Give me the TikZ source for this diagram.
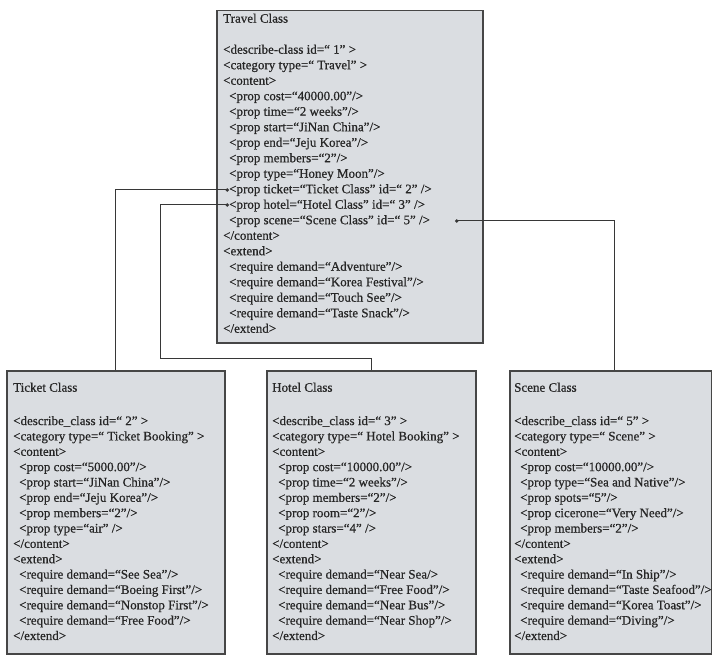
\documentclass[tikz,border=0pt]{standalone}
\usepackage{fontspec}
\setmainfont{Liberation Serif}[FakeBold=0.6]
\usetikzlibrary{arrows.meta}
\definecolor{boxfill}{RGB}{218,221,225}
\definecolor{boxline}{RGB}{70,70,70}
\definecolor{wire}{RGB}{55,55,55}
% indentation of nested tags
\newcommand{\ind}{\hspace*{6pt}}
\begin{document}
\begin{tikzpicture}[x=1pt,y=-1pt,
  classbox/.style={draw=boxline, fill=boxfill, line width=1.5pt, rectangle, inner sep=0pt, anchor=north west},
  classtext/.style={anchor=north west, inner sep=0pt, align=left, text=black!85, font=\fontsize{13}{15.5}\selectfont},
  subtext/.style={classtext, font=\fontsize{13}{15.35}\selectfont},
  link/.style={draw=wire, line width=1pt, -{Circle[length=3.4pt]}}]
\useasboundingbox (0,0) rectangle (712,655);

% class boxes
\node[classbox, minimum width=266pt, minimum height=332pt] (travel) at (216,10) {};
\node[classbox, minimum width=218pt, minimum height=283pt] (ticket) at (6,370) {};
\node[classbox, minimum width=209pt, minimum height=283pt] (hotel) at (266,370) {};
\node[classbox, minimum width=202pt, minimum height=283pt] (scene) at (509,370) {};

% class descriptions
\node[classtext] (traveltxt) at ([xshift=7pt,yshift=-3.5pt]travel.north west) {%
Travel Class\\[15.5pt]
<describe-class id=“ 1” >\\
<category type=“ Travel” >\\
<content>\\
\ind<prop cost=“40000.00”/>\\
\ind<prop time=“2 weeks”/>\\
\ind<prop start=“JiNan China”/>\\
\ind<prop end=“Jeju Korea”/>\\
\ind<prop members=“2”/>\\
\ind<prop type=“Honey Moon”/>\\
\ind<prop ticket=“Ticket Class” id=“ 2” />\\
\ind<prop hotel=“Hotel Class” id=“ 3” />\\
\ind<prop scene=“Scene Class” id=“ 5” />\\
</content>\\
<extend>\\
\ind<require demand=“Adventure”/>\\
\ind<require demand=“Korea Festival”/>\\
\ind<require demand=“Touch See”/>\\
\ind<require demand=“Taste Snack”/>\\
</extend>};

\node[subtext] (tickettxt) at ([xshift=7pt,yshift=-12.5pt]ticket.north west) {%
Ticket Class\\[18pt]
<describe\_class id=“ 2” >\\
<category type=“ Ticket Booking” >\\
<content>\\
\ind<prop cost=“5000.00”/>\\
\ind<prop start=“JiNan China”/>\\
\ind<prop end=“Jeju Korea”/>\\
\ind<prop members=“2”/>\\
\ind<prop type=“air” />\\
</content>\\
<extend>\\
\ind<require demand=“See Sea”/>\\
\ind<require demand=“Boeing First”/>\\
\ind<require demand=“Nonstop First”/>\\
\ind<require demand=“Free Food”/>\\
</extend>};

\node[subtext] (hoteltxt) at ([xshift=6pt,yshift=-12.5pt]hotel.north west) {%
Hotel Class\\[18pt]
<describe\_class id=“ 3” >\\
<category type=“ Hotel Booking” >\\
<content>\\
\ind<prop cost=“10000.00”/>\\
\ind<prop time=“2 weeks”/>\\
\ind<prop members=“2”/>\\
\ind<prop room=“2”/>\\
\ind<prop stars=“4” />\\
</content>\\
<extend>\\
\ind<require demand=“Near Sea/>\\
\ind<require demand=“Free Food”/>\\
\ind<require demand=“Near Bus”/>\\
\ind<require demand=“Near Shop”/>\\
</extend>};

\node[subtext] (scenetxt) at ([xshift=5pt,yshift=-12.5pt]scene.north west) {%
Scene Class\\[18pt]
<describe\_class id=“ 5” >\\
<category type=“ Scene” >\\
<content>\\
\ind<prop cost=“10000.00”/>\\
\ind<prop type=“Sea and Native”/>\\
\ind<prop spots=“5”/>\\
\ind<prop cicerone=“Very Need”/>\\
\ind<prop members=“2”/>\\
</content>\\
<extend>\\
\ind<require demand=“In Ship”/>\\
\ind<require demand=“Taste Seafood”/>\\
\ind<require demand=“Korea Toast”/>\\
\ind<require demand=“Diving”/>\\
</extend>};

% reference points on the Travel Class lines
\coordinate (tkin) at (229,190);
\coordinate (htin) at (229,205);
\coordinate (scin) at (455,221);
\coordinate (htbend) at (160,358);

% links from the component classes
\draw[link] (ticket.north) |- (tkin);
\draw[link] (hotel.north) |- (htbend) |- (htin);
\draw[link] ([xshift=4pt]scene.north) |- (scin);
\end{tikzpicture}
\end{document}
